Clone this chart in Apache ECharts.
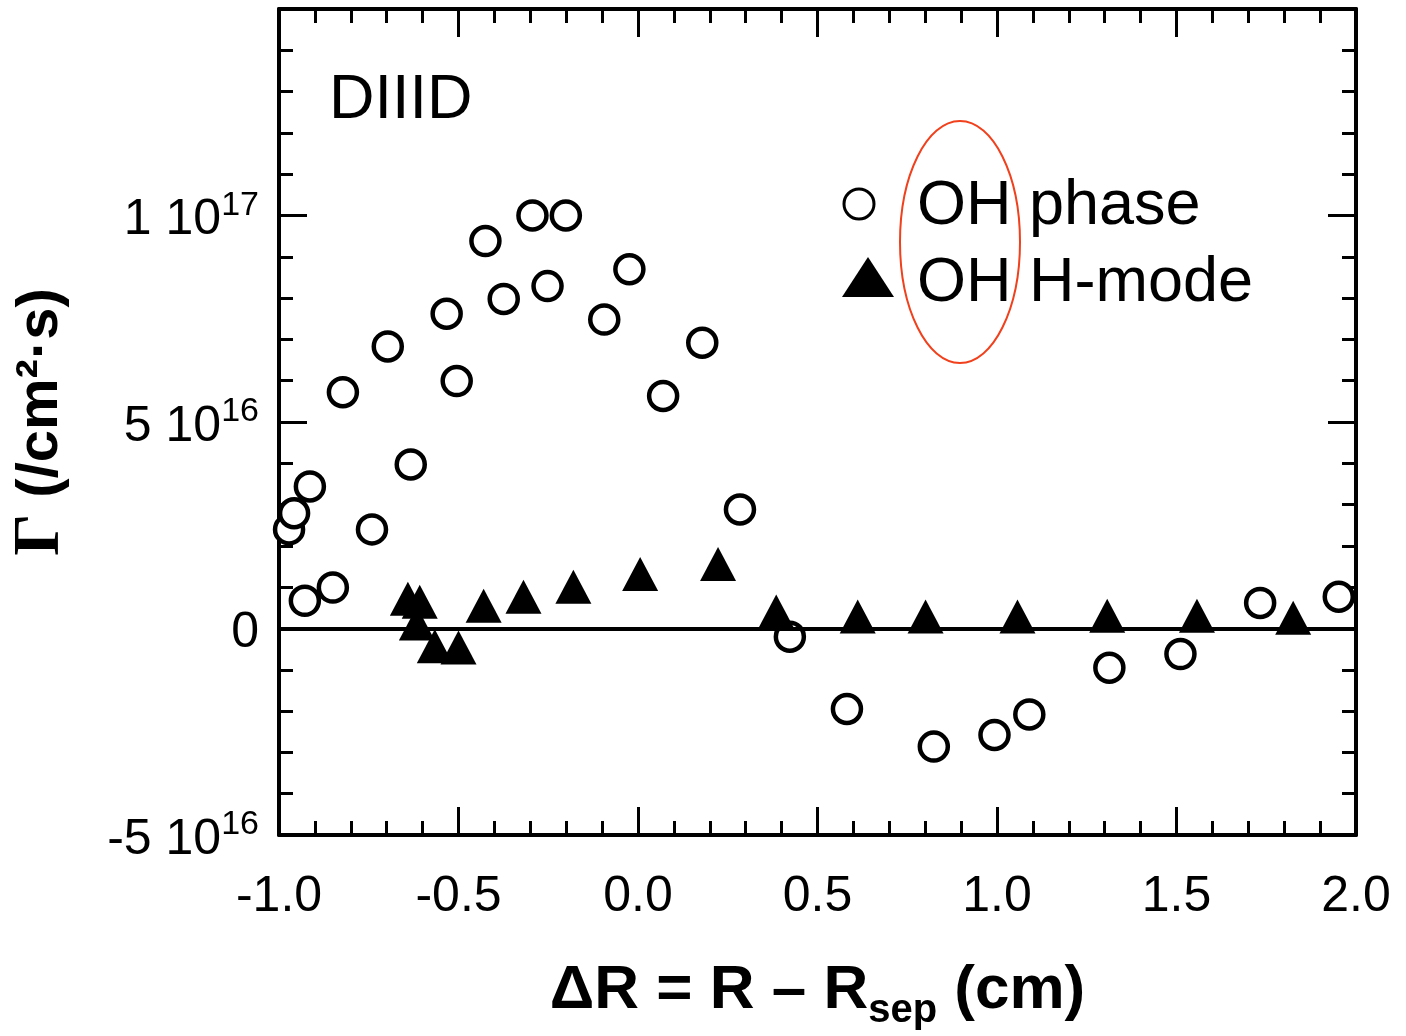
<!DOCTYPE html>
<html>
<head>
<meta charset="utf-8">
<title>DIIID particle flux profile</title>
<script src="https://cdn.jsdelivr.net/npm/echarts@6/dist/echarts.min.js"></script>
<style>
  html, body { margin: 0; padding: 0; background: #fff; }
  #chart { width: 1406px; height: 1036px; }
</style>
</head>
<body>
<div id="chart"></div>
<script>
// Radial position relative to the separatrix, ΔR (cm)
const ohPhaseX = [-0.972, -0.958, -0.914, -0.928, -0.850, -0.822, -0.741, -0.697, -0.633, -0.533,
                  -0.505, -0.425, -0.374, -0.294, -0.252, -0.201, -0.094, -0.024, 0.070, 0.179,
                  0.284, 0.423, 0.582, 0.824, 0.993, 1.090, 1.313, 1.511, 1.733, 1.952];
// Particle flux Γ for the OH phase, in units of 1e16 /cm²·s
const ohPhaseY = [2.40, 2.79, 3.44, 0.67, 0.99, 5.72, 2.40, 6.83, 3.97, 7.62,
                  5.99, 9.38, 7.98, 10.0, 8.29, 10.0, 7.48, 8.70, 5.63, 6.92,
                  2.88, -0.20, -1.95, -2.86, -2.58, -2.08, -0.95, -0.62, 0.62, 0.77];

// Same quantity for the H-mode phase
const hModeX = [-0.641, -0.608, -0.616, -0.566, -0.500, -0.430, -0.319, -0.180, 0.006, 0.223,
                0.385, 0.612, 0.801, 1.057, 1.307, 1.557, 1.825];
const hModeY = [0.72, 0.65, 0.12, -0.43, -0.46, 0.55, 0.77, 1.01, 1.32, 1.56,
                0.41, 0.29, 0.29, 0.29, 0.31, 0.31, 0.26];

// Axis ranges (x in cm, y in units of 1e16)
const xRange = [-1.0, 2.0];
const yRange = [-5, 15];
const fluxUnitExp = 16;

const FONT = 'Liberation Sans';

function pairs(xs, ys) {
  return xs.map((x, i) => [x, ys[i]]);
}

// "5 10^16" style labels with a raised exponent
function fluxLabel(v) {
  if (Math.abs(v) < 1e-9) return '{m|0}';
  let exp = fluxUnitExp;
  let mant = v;
  while (Math.abs(mant) >= 10) { mant /= 10; exp += 1; }
  return '{m|' + (Math.round(mant * 100) / 100) + ' 10}{sup|' + exp + '}';
}

const chart = echarts.init(document.getElementById('chart'));

function frameAxis() {
  return {
    axisLine: { show: true, onZero: false, lineStyle: { color: '#000', width: 4 } },
    axisTick: { show: true, inside: true, length: 28, lineStyle: { color: '#000', width: 3 } },
    minorTick: { show: true, splitNumber: 5, length: 14, lineStyle: { color: '#000', width: 3 } },
    splitLine: { show: false },
    minorSplitLine: { show: false }
  };
}

chart.setOption({
  animation: false,
  backgroundColor: '#fff',
  grid: { left: 277, right: 50, top: 9, bottom: 195, containLabel: false },
  xAxis: [
    Object.assign({
      type: 'value', position: 'bottom', min: xRange[0], max: xRange[1], interval: 0.5,
      axisLabel: {
        show: true, margin: 37, color: '#000', fontFamily: FONT, fontSize: 50,
        formatter: v => v.toFixed(1)
      },
      name: '{m|ΔR = R – R}{sub|sep}{m| (cm)}',
      nameLocation: 'middle',
      nameGap: 116,
      nameTextStyle: {
        rich: {
          m: { fontFamily: FONT, fontWeight: 'bold', fontSize: 62, color: '#000' },
          sub: { fontFamily: FONT, fontWeight: 'bold', fontSize: 40, color: '#000', padding: [40, 0, 0, 0] }
        }
      }
    }, frameAxis()),
    Object.assign({
      type: 'value', position: 'top', min: xRange[0], max: xRange[1], interval: 0.5,
      axisLabel: { show: false }
    }, frameAxis())
  ],
  yAxis: [
    Object.assign({
      type: 'value', position: 'left', min: yRange[0], max: yRange[1], interval: 5,
      axisLabel: {
        show: true, margin: 20, showMaxLabel: false,
        formatter: fluxLabel,
        rich: {
          m: { fontFamily: FONT, fontSize: 50, color: '#000', padding: [10, 0, 0, 0] },
          sup: { fontFamily: FONT, fontSize: 34, color: '#000', padding: [0, 0, 20, 0] }
        }
      },
      name: '{g|Γ}{t| (/cm²·s)}',
      nameLocation: 'middle',
      nameRotate: 90,
      nameGap: 205,
      nameTextStyle: {
        rich: {
          g: { fontFamily: 'Liberation Serif', fontWeight: 'bold', fontSize: 66, color: '#000' },
          t: { fontFamily: FONT, fontWeight: 'bold', fontSize: 58, color: '#000' }
        }
      }
    }, frameAxis()),
    Object.assign({
      type: 'value', position: 'right', min: yRange[0], max: yRange[1], interval: 5,
      axisLabel: { show: false }
    }, frameAxis())
  ],
  series: [
    {
      name: 'OH phase',
      type: 'scatter',
      xAxisIndex: 0, yAxisIndex: 0,
      data: pairs(ohPhaseX, ohPhaseY),
      symbol: 'circle',
      symbolSize: 28,
      itemStyle: { color: '#fff', borderColor: '#000', borderWidth: 4.5, opacity: 1 },
      markLine: {
        silent: true,
        symbol: ['none', 'none'],
        label: { show: false },
        lineStyle: { color: '#000', width: 4, type: 'solid' },
        data: [{ yAxis: 0 }]
      },
      z: 3
    },
    {
      name: 'OH H-mode',
      type: 'scatter',
      xAxisIndex: 0, yAxisIndex: 0,
      data: pairs(hModeX, hModeY),
      symbol: 'triangle',
      symbolSize: [36, 34],
      itemStyle: { color: '#000', opacity: 1 },
      z: 4
    }
  ],
  graphic: [
    {
      type: 'text', x: 329, y: 101,
      style: { text: 'DIIID', fontFamily: FONT, fontSize: 63, fill: '#000', align: 'left', verticalAlign: 'middle' }
    },
    {
      type: 'circle', shape: { cx: 859, cy: 204, r: 15 },
      style: { fill: '#fff', stroke: '#000', lineWidth: 3 }
    },
    {
      type: 'polygon', shape: { points: [[868, 257], [894, 297], [842, 297]] },
      style: { fill: '#000' }
    },
    {
      type: 'text', x: 917, y: 207,
      style: { text: 'OH phase', fontFamily: FONT, fontSize: 63, fill: '#000', align: 'left', verticalAlign: 'middle' }
    },
    {
      type: 'text', x: 917, y: 284,
      style: { text: 'OH H-mode', fontFamily: FONT, fontSize: 63, fill: '#000', align: 'left', verticalAlign: 'middle' }
    },
    {
      type: 'ellipse', shape: { cx: 960, cy: 242, rx: 60, ry: 121 },
      style: { fill: 'none', stroke: '#f0401c', lineWidth: 2 }
    }
  ]
});
</script>
</body>
</html>
